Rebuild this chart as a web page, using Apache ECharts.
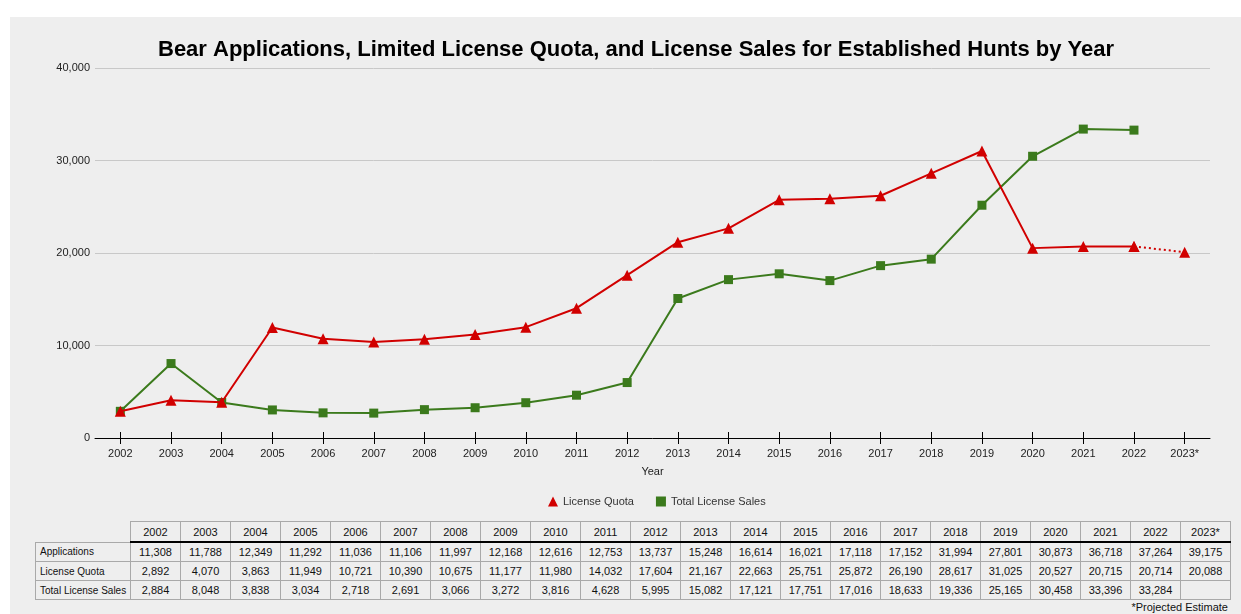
<!DOCTYPE html>
<html>
<head>
<meta charset="utf-8">
<script src="https://cdn.jsdelivr.net/npm/echarts@6/dist/echarts.min.js"></script>
<style>
  html, body { margin:0; padding:0; background:#ffffff; width:1241px; height:614px; overflow:hidden; font-family:"Liberation Sans", Arial, sans-serif; }
  #panel { position:absolute; left:10px; top:17px; width:1231px; height:597px; background:#eeeeee; }
  #chart { position:absolute; left:0; top:0; width:1241px; height:520px; }
  #tbl { position:absolute; left:35px; top:521px; border-collapse:collapse; font-size:11px; color:#111; }
  #tbl td, #tbl th { border:1px solid #a9a9a9; height:18px; padding:0; text-align:center; font-weight:normal; width:49px; }
  #tbl th { border-bottom:2px solid #000; height:19px; }
  #tbl th.blank { border:none; border-bottom:none; }
  #tbl td.lab { text-align:left; padding-left:4px; width:90px; font-size:10px; }
  #note { position:absolute; right:13px; top:601px; font-size:11px; color:#111; }
</style>
</head>
<body>
<div id="panel"></div>
<div id="chart"></div>
<table id="tbl"></table>
<div id="note">*Projected Estimate</div>
<script>
const years = ['2002','2003','2004','2005','2006','2007','2008','2009','2010','2011','2012','2013','2014','2015','2016','2017','2018','2019','2020','2021','2022','2023*'];
const applications = [11308,11788,12349,11292,11036,11106,11997,12168,12616,12753,13737,15248,16614,16021,17118,17152,31994,27801,30873,36718,37264,39175];
const licenseQuota = [2892,4070,3863,11949,10721,10390,10675,11177,11980,14032,17604,21167,22663,25751,25872,26190,28617,31025,20527,20715,20714,20088];
const totalSales = [2884,8048,3838,3034,2718,2691,3066,3272,3816,4628,5995,15082,17121,17751,17016,18633,19336,25165,30458,33396,33284,null];
const yTicks = [0,10000,20000,30000,40000];
const titleText = 'Bear Applications, Limited License Quota, and License Sales for Established Hunts by Year';

const fmt = v => (v === null || v === undefined) ? '' : v.toLocaleString('en-US');

// table
const tbl = document.getElementById('tbl');
let html = '<tr><th class="blank" style="width:94px"></th>' + years.map(y => '<th>' + y + '</th>').join('') + '</tr>';
const rows = [['Applications', applications], ['License Quota', licenseQuota], ['Total License Sales', totalSales]];
rows.forEach(r => {
  html += '<tr><td class="lab">' + r[0] + '</td>' + r[1].map(v => '<td>' + fmt(v) + '</td>').join('') + '</tr>';
});
tbl.innerHTML = html;

const n = years.length;
const quotaSolid = licenseQuota.map((v, i) => i < n - 1 ? v : null);
const quotaProj = licenseQuota.map((v, i) => i >= n - 2 ? v : null);

const RED = '#d10000', GREEN = '#3b7a1c';
const chart = echarts.init(document.getElementById('chart'), null, { renderer: 'canvas' });
chart.setOption({
  backgroundColor: 'transparent',
  animation: false,
  textStyle: { fontFamily: '"Liberation Sans", Arial, sans-serif' },
  title: {
    text: titleText, left: 153, top: 34,
    textStyle: { fontSize: 22, fontWeight: 'bold', color: '#000' }
  },
  legend: {
    data: [{ name: 'License Quota', icon: 'triangle' }, { name: 'Total License Sales', icon: 'rect' }],
    top: 491, left: 543, itemWidth: 10, itemHeight: 10, itemGap: 22,
    textStyle: { fontSize: 11, color: '#333' }
  },
  grid: { left: 95, right: 31, top: 68, height: 370 },
  xAxis: [{
    type: 'category', data: years, boundaryGap: true,
    name: 'Year', nameLocation: 'middle', nameGap: 28,
    nameTextStyle: { fontSize: 11, color: '#222' },
    axisLine: { show: true, lineStyle: { color: '#000', width: 1 } },
    axisTick: { show: true, interval: 0, alignWithLabel: true, length: 6, lineStyle: { color: '#000', width: 1 } },
    axisLabel: { fontSize: 11, color: '#222', margin: 10, interval: 0 }
  }, {
    type: 'category', data: years, boundaryGap: true, position: 'bottom', gridIndex: 0,
    axisLine: { show: false },
    axisTick: { show: true, interval: 0, alignWithLabel: true, inside: true, length: 6, lineStyle: { color: '#000', width: 1 } },
    axisLabel: { show: false }
  }],
  yAxis: {
    type: 'value', min: 0, max: 40000, interval: 10000,
    axisLine: { show: false }, axisTick: { show: false },
    splitLine: { lineStyle: { color: '#c8c8c8', width: 1 } },
    axisLabel: { fontSize: 11, color: '#222', margin: 5, formatter: v => fmt(v) }
  },
  series: [{
    name: 'Total License Sales', type: 'line', data: totalSales,
    symbol: 'rect', symbolSize: 9, showAllSymbol: true,
    itemStyle: { color: GREEN }, lineStyle: { color: GREEN, width: 2 }, z: 2
  }, {
    name: 'License Quota', type: 'line', data: quotaSolid,
    symbol: 'triangle', symbolSize: 11, showAllSymbol: true,
    itemStyle: { color: RED }, lineStyle: { color: RED, width: 2 }, z: 3
  }, {
    name: 'License Quota (projected)', type: 'line', data: quotaProj,
    symbol: 'triangle', symbolSize: 11, showAllSymbol: true,
    itemStyle: { color: RED }, lineStyle: { color: RED, width: 2, type: [2, 3] }, z: 3
  }]
});
</script>
</body>
</html>
